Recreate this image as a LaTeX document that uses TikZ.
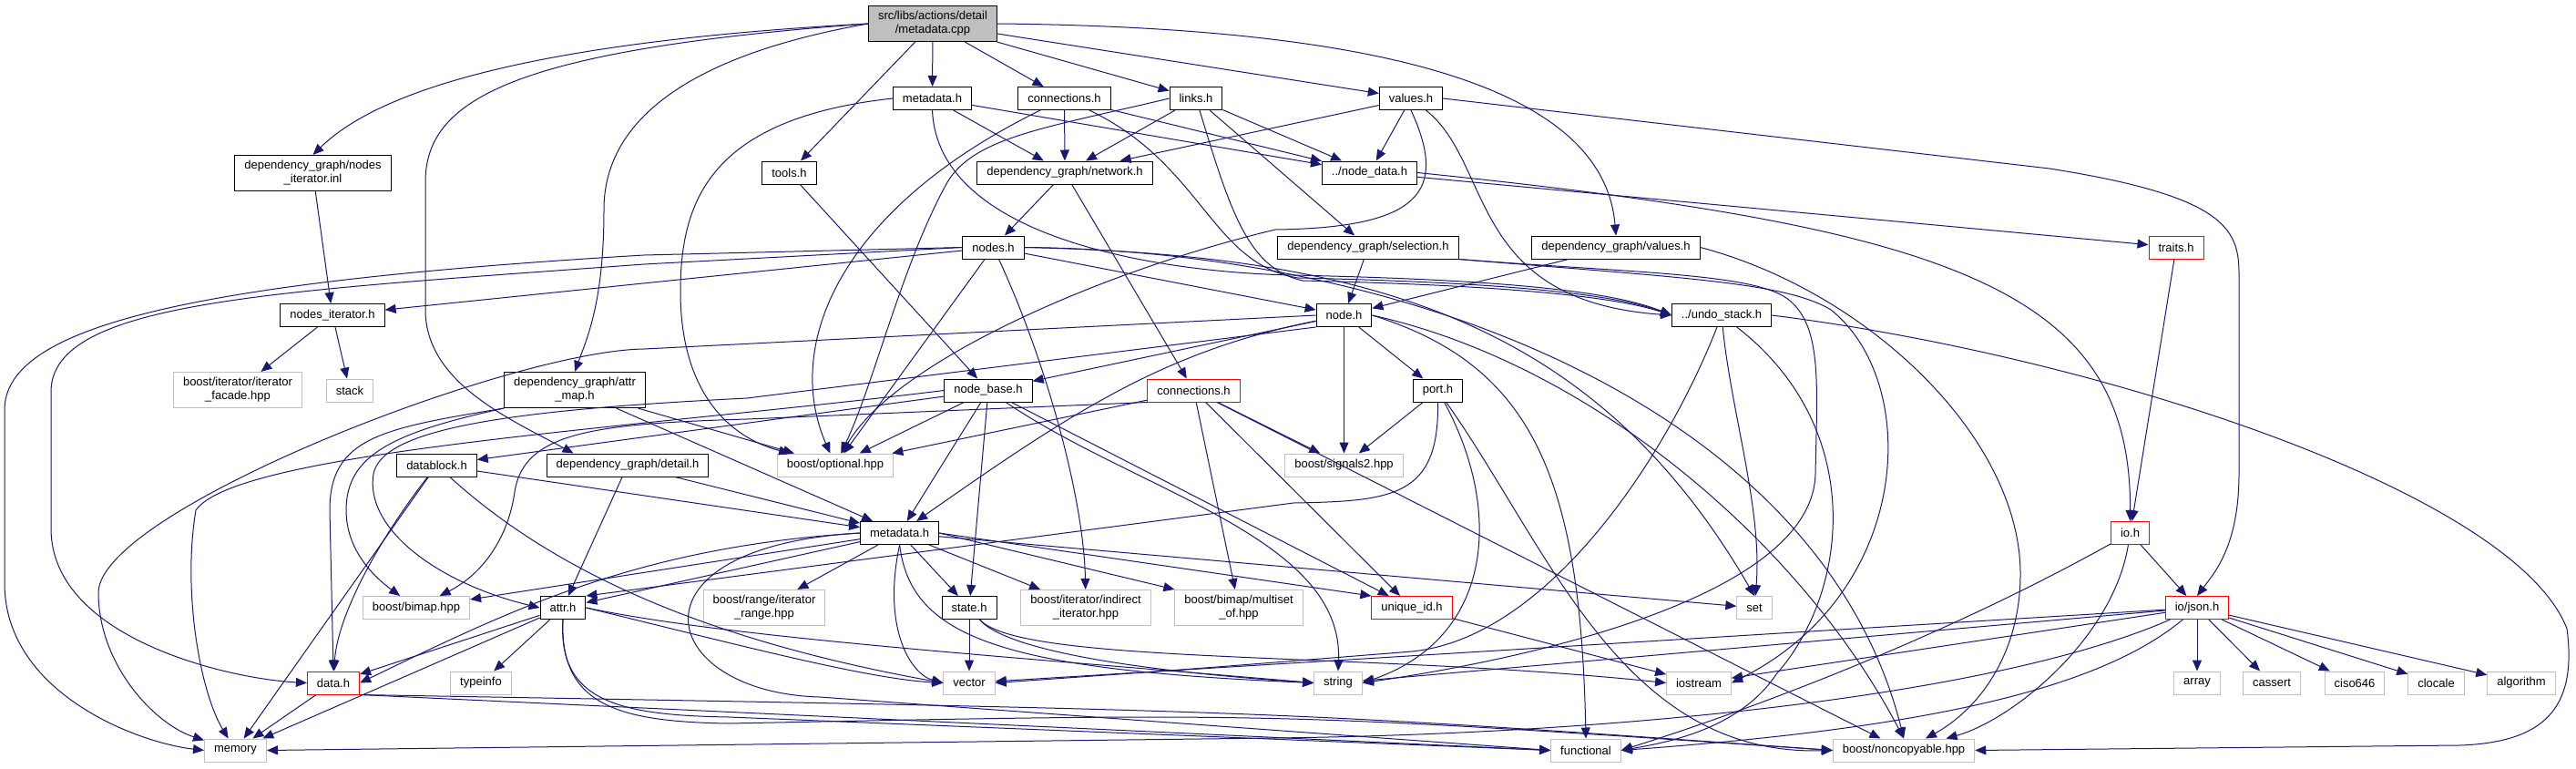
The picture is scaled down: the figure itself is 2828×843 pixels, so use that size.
\documentclass[tikz,border=0pt]{standalone}
\usepackage{fontspec}
\setmainfont{Liberation Sans}
\usepackage{tikz}
\usepackage{xcolor}
\usetikzlibrary{arrows.meta}
\definecolor{edgeblue}{HTML}{191970}
\definecolor{extgrey}{HTML}{BFBFBF}
\definecolor{cutred}{HTML}{FF0000}
\definecolor{rootgrey}{HTML}{BFBFBF}
\newcommand\filefont{\fontsize{13}{15}\selectfont}
\tikzset{
  docfile/.style={draw=black,fill=white,line width=1pt,font=\filefont,align=center,
                  inner xsep=10.5pt,inner ysep=6pt,minimum height=25pt},
  sysfile/.style={docfile,draw=extgrey},
  cutfile/.style={docfile,draw=cutred},
  mainfile/.style={docfile,fill=rootgrey},
  incl/.style={draw=edgeblue,line width=1pt,-{Triangle[length=12pt,width=10pt]}}
}

\begin{document}
\begin{tikzpicture}[x=1pt,y=-1pt]
 \useasboundingbox (0,0) rectangle (2828,843);
 \fill[white] (0,0) rectangle (2828,843);

 \node[mainfile] (root) at (1024,26) {src/libs/actions/detail\\/metadata.cpp};
 \node[docfile] (metaH) at (1023.5,108) {metadata.h};
 \node[docfile] (connH) at (1168.5,108) {connections.h};
 \node[docfile] (linksH) at (1313,108) {links.h};
 \node[docfile] (valuesH) at (1549,108) {values.h};
 \node[docfile] (nitInl) at (343.5,190) {dependency\_graph/nodes\\\_iterator.inl};
 \node[docfile] (toolsH) at (866.5,189.5) {tools.h};
 \node[docfile] (networkH) at (1169,189.5) {dependency\_graph/network.h};
 \node[docfile] (nodeDataH) at (1503.5,189.5) {../node\_data.h};
 \node[docfile] (nodesH) at (1090.5,271.5) {nodes.h};
 \node[docfile] (selectionH) at (1502,271.5) {dependency\_graph/selection.h};
 \node[docfile] (dgValuesH) at (1774,271.5) {dependency\_graph/values.h};
 \node[cutfile] (traitsH) at (2389,271.5) {traits.h};
 \node[docfile] (nitH) at (365,346) {nodes\_iterator.h};
 \node[docfile] (nodeH) at (1475.5,346) {node.h};
 \node[docfile] (undoH) at (1890,346) {../undo\_stack.h};
 \node[sysfile] (iterFacade) at (261,428) {boost/iterator/iterator\\\_facade.hpp};
 \node[sysfile] (stackInc) at (384,428.5) {stack};
 \node[docfile] (attrMapH) at (631,428) {dependency\_graph/attr\\\_map.h};
 \node[docfile] (nodeBaseH) at (1085,428.5) {node\_base.h};
 \node[cutfile] (dgConnH) at (1310.5,428.5) {connections.h};
 \node[docfile] (portH) at (1578.5,428.5) {port.h};
 \node[docfile] (datablockH) at (479.5,510.5) {datablock.h};
 \node[docfile] (detailH) at (689,510.5) {dependency\_graph/detail.h};
 \node[sysfile] (optional) at (917,510.5) {boost/optional.hpp};
 \node[sysfile] (signals) at (1475.5,510.5) {boost/signals2.hpp};
 \node[cutfile] (ioH) at (2338.5,585) {io.h};
 \node[docfile] (dgMetaH) at (987.6,585) {metadata.h};
 \node[sysfile] (bimap) at (457,667) {boost/bimap.hpp};
 \node[docfile] (attrH) at (618,667) {attr.h};
 \node[sysfile] (range) at (839,667) {boost/range/iterator\\\_range.hpp};
 \node[docfile] (stateH) at (1064,667) {state.h};
 \node[sysfile] (indirect) at (1192,667) {boost/iterator/indirect\\\_iterator.hpp};
 \node[sysfile] (multiset) at (1360,667) {boost/bimap/multiset\\\_of.hpp};
 \node[cutfile] (uniqueId) at (1550,667) {unique\_id.h};
 \node[sysfile] (setInc) at (1926,667) {set};
 \node[cutfile] (jsonH) at (2412,667) {io/json.h};
 \node[cutfile] (dataH) at (366,749.5) {data.h};
 \node[sysfile] (typeinfoInc) at (528,749.5) {typeinfo};
 \node[sysfile] (vectorInc) at (1064,749.5) {vector};
 \node[sysfile] (stringInc) at (1469,749.5) {string};
 \node[sysfile] (iostreamInc) at (1865,749.5) {iostream};
 \node[sysfile] (arrayInc) at (2412,749.5) {array};
 \node[sysfile] (cassertInc) at (2494,749.5) {cassert};
 \node[sysfile] (ciso) at (2585,749.5) {ciso646};
 \node[sysfile] (clocale) at (2674.5,749.5) {clocale};
 \node[sysfile] (algorithmInc) at (2768,749.5) {algorithm};
 \node[sysfile] (memory) at (258.5,823.5) {memory};
 \node[sysfile] (functional) at (1741,823.5) {functional};
 \node[sysfile] (noncopyable) at (2090,823.5) {boost/noncopyable.hpp};

 % short includes
 \foreach \src/\dst in {root/toolsH, root/metaH, root/connH, root/linksH, root/valuesH,
   metaH/networkH, metaH/nodeDataH, connH/networkH, connH/nodeDataH,
   linksH/networkH, linksH/nodeDataH, linksH/selectionH, valuesH/networkH, valuesH/nodeDataH,
   nitInl/nitH, toolsH/nodeBaseH, networkH/nodesH, networkH/dgConnH,
   nodeDataH/traitsH, traitsH/ioH, nodesH/nitH, nodesH/optional, nodesH/nodeH,
   selectionH/nodeH, dgValuesH/nodeH, nitH/iterFacade, nitH/stackInc,
   nodeH/nodeBaseH, nodeH/portH, nodeH/signals,
   nodeBaseH/optional, nodeBaseH/dgMetaH, nodeBaseH/stateH, nodeBaseH/uniqueId, nodeBaseH/datablockH,
   dgConnH/optional, dgConnH/multiset, dgConnH/uniqueId, dgConnH/signals, dgConnH/noncopyable,
   portH/signals, datablockH/dgMetaH, datablockH/memory, detailH/dgMetaH, detailH/attrH,
   attrMapH/dgMetaH, attrMapH/optional, ioH/jsonH,
   dgMetaH/range, dgMetaH/stateH, dgMetaH/indirect, dgMetaH/setInc, dgMetaH/attrH, dgMetaH/bimap,
   attrH/dataH, attrH/typeinfoInc, attrH/memory, dataH/memory, stateH/vectorInc, uniqueId/iostreamInc,
   jsonH/arrayInc, jsonH/cassertInc, jsonH/ciso, jsonH/clocale, jsonH/algorithmInc,
   jsonH/vectorInc, jsonH/stringInc, jsonH/iostreamInc}
   \draw[incl] (\src) -- (\dst);

 % routed includes
 \draw[incl] (root.west) .. controls (600,45) and (420,95) .. (nitInl.north);
 \draw[incl] (root.west) .. controls (760,60) and (663,130) .. (663,230) .. controls (663,330) and (645,370) .. (attrMapH.north);
 \draw[incl] (root.west) .. controls (560,55) and (467,110) .. (467,200) -- (467,340) .. controls (467,420) and (560,460) .. ([xshift=30pt]detailH.north west);
 \draw[incl] (root.east) .. controls (1500,30) and (1760,90) .. (dgValuesH.north);

 \draw[incl] (metaH.west) .. controls (780,130) and (747,220) .. (747,320) .. controls (747,430) and (800,480) .. (optional);
 \draw[incl] (connH) .. controls (920,230) and (860,380) .. (optional);
 \draw[incl] (linksH.west) .. controls (1150,140) and (1070,150) .. (1040,200) .. controls (990,290) and (960,420) .. (optional);
 \draw[incl] (valuesH.south) .. controls (1590,210) and (1560,250) .. (1400,252) .. controls (1200,300) and (980,400) .. (optional);

 \draw[incl] (metaH.south) .. controls (1030,270) and (1300,300) .. (1420,302) .. controls (1600,306) and (1760,315) .. (undoH.west);
 \draw[incl] (connH) .. controls (1320,180) and (1330,290) .. (1425,305) .. controls (1600,309) and (1760,318) .. (undoH.west);
 \draw[incl] (linksH) .. controls (1350,230) and (1370,295) .. (1430,308) .. controls (1600,312) and (1760,321) .. (undoH.west);
 \draw[incl] (valuesH) .. controls (1640,180) and (1610,330) .. (undoH.west);

 \draw[incl] (valuesH.east) -- (2250,185) .. controls (2440,215) and (2458,250) .. (2458,300) -- (2458,520) .. controls (2458,600) and (2430,630) .. (jsonH.north);
 \draw[incl] (nodeDataH.east) .. controls (2150,250) and (2340,320) .. (ioH.north);

 \draw[incl] (nodesH.west) -- (707,280) .. controls (200,310) and (5,360) .. (5,450) -- (5,640) .. controls (5,760) and (150,815) .. (memory.west);
 \draw[incl] (nodesH.west) -- (707,290) .. controls (300,320) and (56,330) .. (56,430) -- (56,580) .. controls (56,700) and (250,745) .. (dataH.west);
 \draw[incl] (nodesH) .. controls (1150,400) and (1190,550) .. (indirect);
 \draw[incl] (nodesH.east) .. controls (1500,280) and (1750,350) .. (setInc.north);
 \draw[incl] (nodesH.east) .. controls (1550,275) and (2000,450) .. (noncopyable.north);

 \draw[incl] (selectionH.south east) .. controls (1800,300) and (1930,300) .. (1965,330) .. controls (2000,360) and (1995,420) .. (1993,520) .. controls (1990,650) and (1700,720) .. (stringInc.east);
 \draw[incl] (selectionH.south east) .. controls (1850,305) and (1960,310) .. (2010,340) .. controls (2110,420) and (2100,650) .. (iostreamInc.east);
 \draw[incl] (dgValuesH.east) .. controls (2050,320) and (2218,480) .. (2218,630) .. controls (2218,720) and (2170,780) .. (noncopyable);

 \draw[incl] (undoH.east) .. controls (2300,390) and (2760,540) .. (2818,690) .. controls (2830,780) and (2790,815) .. (2700,818) -- (noncopyable.east);
 \draw[incl] (undoH) .. controls (1830,500) and (1700,700) .. (1550,715) .. controls (1300,735) .. (vectorInc.east);
 \draw[incl] (undoH) .. controls (1900,450) and (1935,560) .. (setInc);
 \draw[incl] (undoH) .. controls (2050,470) and (2030,650) .. (1950,740) .. controls (1910,800) and (1830,815) .. (functional.east);

 \draw[incl] (nodeH.west) -- (707,383) .. controls (560,385) and (110,560) .. (108,650) .. controls (108,730) and (170,795) .. (memory);
 \draw[incl] (nodeH.south west) -- (820,437) .. controls (560,450) and (420,470) .. (410,520) .. controls (400,580) and (480,640) .. (attrH.west);
 \draw[incl] (nodeH) .. controls (1280,385) and (1180,450) .. (dgMetaH);
 \draw[incl] (nodeH.east) .. controls (1680,400) and (1735,520) .. (functional.north);
 \draw[incl] (nodeH.east) .. controls (1750,400) and (1980,600) .. (noncopyable.north);

 \draw[incl] (nodeBaseH.west) .. controls (700,470) and (260,495) .. (215,560) .. controls (200,650) and (220,760) .. (memory);
 \draw[incl] (nodeBaseH) .. controls (1250,540) and (1475,590) .. (stringInc.north);
 \draw[incl] (dgConnH.south west) -- (820,460) .. controls (650,465) and (575,475) .. (565,540) .. controls (558,590) and (530,630) .. (bimap);

 \draw[incl] (portH.south) .. controls (1580,545) and (1530,550) .. (1420,552) -- (attrH.north east);
 \draw[incl] (portH) .. controls (1650,560) and (1640,700) .. (stringInc.east);
 \draw[incl] (portH) .. controls (1700,600) and (1780,830) .. (noncopyable.west);

 \draw[incl] (attrMapH.south west) .. controls (420,470) and (362,480) .. (362,560) -- (dataH.north);
 \draw[incl] (attrMapH.south west) .. controls (430,475) and (380,500) .. (380,560) .. controls (380,610) and (420,640) .. (bimap);
 \draw[incl] (datablockH) .. controls (600,620) and (760,700) .. (vectorInc.west);
 \draw[incl] (datablockH) .. controls (410,600) and (370,680) .. (dataH);

 \draw[incl] (dgMetaH.west) .. controls (700,600) and (560,670) .. (dataH.east);
 \draw[incl] (dgMetaH.south) .. controls (1000,700) and (1100,735) .. (stringInc.west);
 \draw[incl] (dgMetaH.south) .. controls (968,690) and (1000,740) .. (vectorInc.west);
 \draw[incl] (dgMetaH.west) .. controls (680,600) and (720,760) .. (900,765) -- (functional.west);
 \draw[incl] (dgMetaH.east) -- (multiset.north west);
 \draw[incl] (dgMetaH.east) -- (uniqueId.north west);

 \draw[incl] (attrH.east) .. controls (800,700) and (1100,720) .. (stringInc.west);
 \draw[incl] (attrH.east) .. controls (800,705) and (950,745) .. (vectorInc.west);
 \draw[incl] (attrH.south) .. controls (612,770) and (680,785) .. (800,787) -- (functional.west);
 \draw[incl] (attrH.south) .. controls (614,775) and (680,792) .. (800,794) .. controls (1400,782) .. (noncopyable.west);
 \draw[incl] (dataH.south east) -- (functional.west);
 \draw[incl] (dataH.south east) .. controls (1400,780) .. (noncopyable.west);

 \draw[incl] (stateH) .. controls (1110,720) and (1300,740) .. (stringInc.west);
 \draw[incl] (stateH) .. controls (1120,730) and (1500,715) .. (iostreamInc.west);
 \draw[incl] (ioH) .. controls (2150,690) and (1950,770) .. (functional.east);
 \draw[incl] (ioH) .. controls (2320,700) and (2210,790) .. (noncopyable);
 \draw[incl] (jsonH) .. controls (2200,760) and (1800,805) .. (1400,810) -- (memory.east);
 \draw[incl] (jsonH) .. controls (2300,760) and (2100,800) .. (functional.east);
\end{tikzpicture}
\end{document}
